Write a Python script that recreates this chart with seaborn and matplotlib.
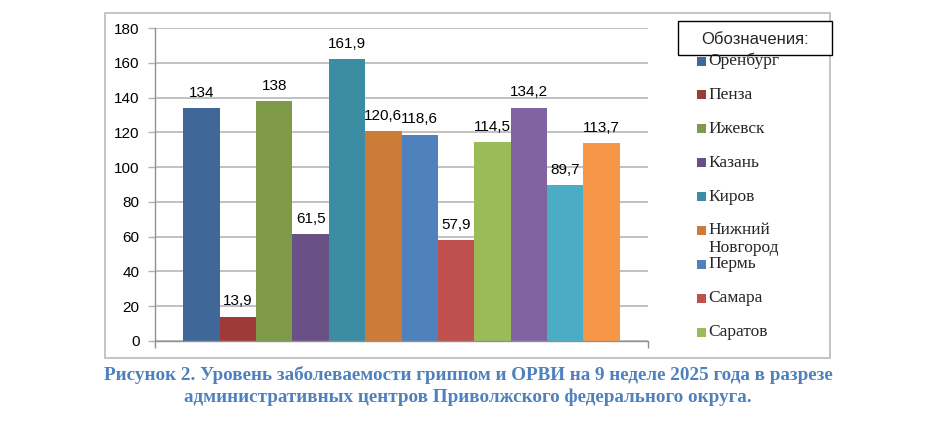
import matplotlib
matplotlib.use("Agg")
import matplotlib.pyplot as plt
import seaborn as sns
import pandas as pd
from matplotlib.patches import Rectangle

cities = ["Оренбург", "Пенза", "Ижевск", "Казань", "Киров", "Нижний\nНовгород",
          "Пермь", "Самара", "Саратов", "Ульяновск", "Чебоксары", "Уфа"]
values = [134, 13.9, 138, 61.5, 161.9, 120.6, 118.6, 57.9, 114.5, 134.2, 89.7, 113.7]
colors = ["#3F6899", "#9E3B38", "#7F9A48", "#695185", "#3C8DA3", "#CC7B38",
          "#4F81BD", "#C0504D", "#9BBB59", "#8064A2", "#4BACC6", "#F79646"]
legend_count = 9
yticks = [0, 20, 40, 60, 80, 100, 120, 140, 160, 180]
caption = ("Рисунок 2. Уровень заболеваемости гриппом и ОРВИ на 9 неделе 2025 года в разрезе\n"
           "административных центров Приволжского федерального округа.")
legend_title = "Обозначения:"

sns.set_theme(style="white")
plt.rcParams['font.family'] = ['Liberation Sans', 'DejaVu Sans']

W, H = 936, 438
fig = plt.figure(figsize=(W / 100, H / 100), dpi=100)

def fx(px):
    return px / W

def fy(py):
    return 1 - py / H

# outer frame
fig.add_artist(Rectangle((fx(105), fy(358)), fx(830) - fx(105), fy(13) - fy(358),
                         transform=fig.transFigure, fill=False, edgecolor="#BFBFBF", lw=1.3))

ax = fig.add_axes([fx(155), fy(341), fx(648) - fx(155), fy(28) - fy(341)])
df = pd.DataFrame({"city": cities, "value": values})
sns.barplot(data=df, x="city", y="value", hue="city", palette=colors, width=1.0,
            legend=False, ax=ax, saturation=1, order=cities, hue_order=cities,
            linewidth=0, edgecolor="none")

n = len(cities)
margin = 28 / 36
ax.set_xlim(-0.5 - margin, n - 0.5 + margin)
ax.set_ylim(0, 180)
ax.set_yticks(yticks)
ax.set_yticklabels([str(t) for t in yticks], fontsize=11, color="#000000")
ax.set_xticks([ax.get_xlim()[0], ax.get_xlim()[1]])
ax.set_xticklabels(["", ""])
ax.set_xlabel("")
ax.set_ylabel("")
ax.grid(axis="y", color="#B0B0B0", lw=1.1)
ax.set_axisbelow(True)
for s in ["top", "right"]:
    ax.spines[s].set_visible(False)
for s in ["left", "bottom"]:
    ax.spines[s].set_color("#909090")
    ax.spines[s].set_linewidth(1.0)
ax.tick_params(axis="y", direction="out", length=5, width=1.0, color="#B0B0B0", pad=6, left=True)
ax.tick_params(axis="x", direction="out", length=5, width=1.0, color="#909090", bottom=True)

for cont in ax.containers:
    labels = [f"{v:g}".replace(".", ",") for v in cont.datavalues]
    ax.bar_label(cont, labels=labels, padding=6, fontsize=11, color="#000000")

# legend
fig.add_artist(Rectangle((fx(678), fy(55)), fx(832) - fx(678), fy(21) - fy(55),
                         transform=fig.transFigure, fill=True, facecolor="white",
                         edgecolor="#000000", lw=1.0))
fig.text(fx(755), fy(39), legend_title, ha="center", va="center", fontsize=12,
         family=["Liberation Sans", "DejaVu Sans"])
y0, dy = 61, 33.9
for i in range(legend_count):
    yc = y0 + i * dy
    fig.add_artist(Rectangle((fx(697), fy(yc + 4.5)), fx(9), fy(0) - fy(9),
                             transform=fig.transFigure, facecolor=colors[i], edgecolor="none"))
    lab = cities[i]
    if "\n" in lab:
        first, second = lab.split("\n")
        fig.text(fx(708), fy(yc), first, ha="left", va="center", fontsize=12.5,
                 family=["Liberation Serif", "DejaVu Serif"])
        fig.text(fx(708), fy(yc + 18), second, ha="left", va="center", fontsize=12.5,
                 family=["Liberation Serif", "DejaVu Serif"])
    else:
        fig.text(fx(708), fy(yc), lab, ha="left", va="center", fontsize=12.5,
                 family=["Liberation Serif", "DejaVu Serif"])

fig.text(fx(468), fy(386), caption, ha="center", va="center", fontsize=13.8,
         fontweight="bold", color="#4F81BD", linespacing=1.3,
         family=["Liberation Serif", "DejaVu Serif"])

fig.savefig("out.png", dpi=100)
